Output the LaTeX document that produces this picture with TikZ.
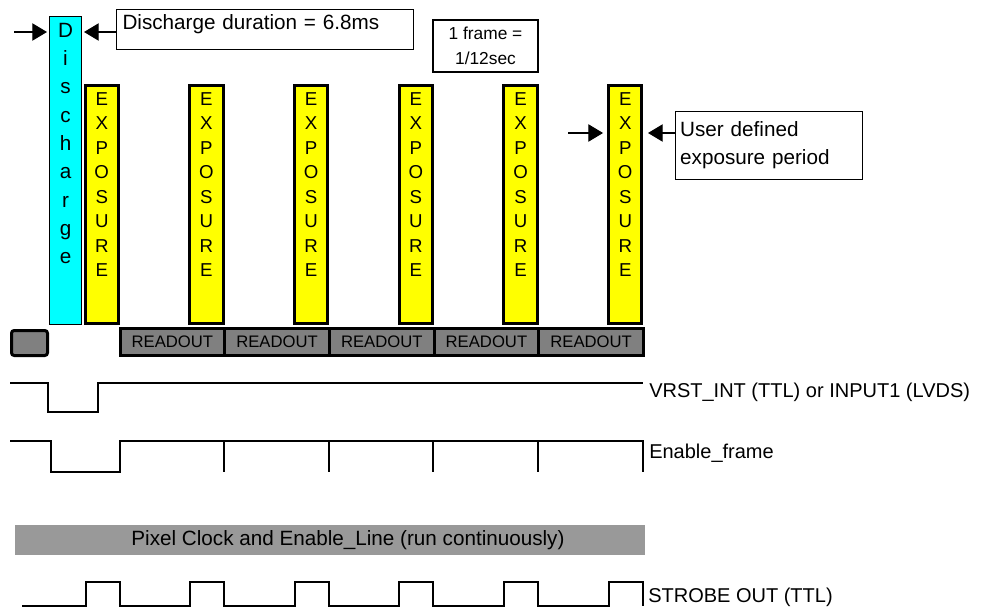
\documentclass[tikz,border=0pt]{standalone}
\usepackage{fontspec}
\setmainfont{Liberation Sans}
\usetikzlibrary{arrows.meta}
\definecolor{dischcol}{RGB}{0,255,255}
\definecolor{expcol}{RGB}{255,255,0}
\definecolor{slotcol}{RGB}{128,128,128}
\definecolor{clockcol}{RGB}{153,153,153}

\begin{document}
\begin{tikzpicture}[x=0.75pt,y=-0.75pt,
	dischbar/.style={draw,line width=0.8pt,fill=dischcol,minimum width=24pt,minimum height=231pt,inner sep=0pt,
		label={[anchor=north,align=center,inner sep=5.25pt,font=\fontsize{15.5}{21.2}\selectfont]north:{D\\i\\s\\c\\h\\a\\r\\g\\e}}},
	expbar/.style={draw,line width=2.25pt,fill=expcol,minimum width=25.1pt,minimum height=178.5pt,inner sep=0pt,
		label={[anchor=north,align=center,inner sep=6pt,font=\fontsize{14}{18.4}\selectfont]north:{E\\X\\P\\O\\S\\U\\R\\E}}},
	readout/.style={draw,line width=2.25pt,fill=slotcol,minimum width=78.5pt,minimum height=19.9pt,inner sep=0pt,
		font=\fontsize{12.5}{15}\selectfont},
	note/.style={draw,line width=0.8pt,fill=white},
	arr/.style={-{Triangle[length=11pt,width=13pt]},line width=0.8pt},
	sig/.style={line width=1.1pt,line join=miter},
	siglbl/.style={anchor=base west,inner sep=0pt,font=\fontsize{15}{18}\selectfont}]
	      	\useasboundingbox (0,0) rectangle (982,610);

	      	% discharge and exposure windows
	      	\node[dischbar] (dis) at (65.5,170.5) {};
	      	\node[expbar] (e1) at (101.75,204.5) {};
	      	\node[expbar] (e2) at (206.45,204.5) {};
	      	\node[expbar] (e3) at (311.15,204.5) {};
	      	\node[expbar] (e4) at (415.85,204.5) {};
	      	\node[expbar] (e5) at (520.55,204.5) {};
	      	\node[expbar] (e6) at (625.25,204.5) {};

	      	% readout slots
	      	\node[draw,line width=2.25pt,fill=slotcol,rounded corners=2pt,minimum width=27pt,minimum height=18.75pt] (r0) at (29.5,343) {};
	      	\node[readout] (r1) at (172.35,342.25) {READOUT};
	      	\node[readout] (r2) at (277.05,342.25) {READOUT};
	      	\node[readout] (r3) at (381.75,342.25) {READOUT};
	      	\node[readout] (r4) at (486.45,342.25) {READOUT};
	      	\node[readout] (r5) at (591.15,342.25) {READOUT};

	      	% notes
	      	\node[note,anchor=north west,align=left,inner xsep=4.5pt,inner ysep=4pt,text width=213.75pt,
	      		text height=11pt,text depth=11pt,font=\fontsize{15.5}{19}\selectfont] (durbox) at (116,9) {Discharge duration = 6.8ms};
	      	\node[note,align=center,minimum width=78.75pt,minimum height=39pt,inner sep=0pt,
	      		font=\fontsize{13}{18.75}\selectfont] (framebox) at (485.5,46) {1 frame =\\1/12sec};
	      	\node[note,anchor=north west,align=left,inner xsep=3.5pt,text width=133.25pt,minimum height=51pt,
	      		font=\fontsize{15.5}{21}\selectfont] (userbox) at (675,111) {User defined\\exposure period};

	      	\coordinate (dl) at (14,32);
	      	\draw[arr,shorten >=1.5pt] (dl) -- (dl -| dis.west);
	      	\draw[arr,shorten >=1.5pt] (durbox.west |- dl) -- (dl -| dis.east);
	      	\coordinate (ul) at (568,133);
	      	\draw[arr,shorten >=3pt] (ul) -- (ul -| e6.west);
	      	\draw[arr,shorten >=3.4pt] (userbox.west |- ul) -- (ul -| e6.east);

	      	% signals
	      	\draw[sig] (10,383) -- (48,383) -- (48,412) -- (98,412) -- (98,383) -- (643,383);
	      	\node[siglbl] (vrst) at (649,397) {VRST\_INT (TTL) or INPUT1 (LVDS)};

	      	\draw[sig] (10,441) -- (51,441) -- (51,472) -- (120,472) -- (120,441) -- (643,441) -- (643,472);
	      	\draw[sig] (224,441) -- (224,472);
	      	\draw[sig] (329,441) -- (329,472);
	      	\draw[sig] (433,441) -- (433,472);
	      	\draw[sig] (538,441) -- (538,472);
	      	\node[siglbl] (enframe) at (649,458) {Enable\_frame};

	      	\node[fill=clockcol,minimum width=472.5pt,minimum height=22.5pt,inner sep=0pt,
	      		label={[xshift=13.5pt,font=\fontsize{15.5}{18}\selectfont]center:Pixel Clock and Enable\_Line (run continuously)}] (pix) at (330,540) {};

	      	\draw[sig] (22,606) -- (86,606) -- (86,582) -- (120,582) -- (120,606)
	      		-- (190,606) -- (190,582) -- (224,582) -- (224,606)
	      		-- (295,606) -- (295,582) -- (329,582) -- (329,606)
	      		-- (399,606) -- (399,582) -- (433,582) -- (433,606)
	      		-- (504,606) -- (504,582) -- (538,582) -- (538,606)
	      		-- (609,606) -- (609,582) -- (643,582) -- (643,606);
	      	\node[siglbl] (strobe) at (648,602) {STROBE OUT (TTL)};
	      \end{tikzpicture}
\end{document}
